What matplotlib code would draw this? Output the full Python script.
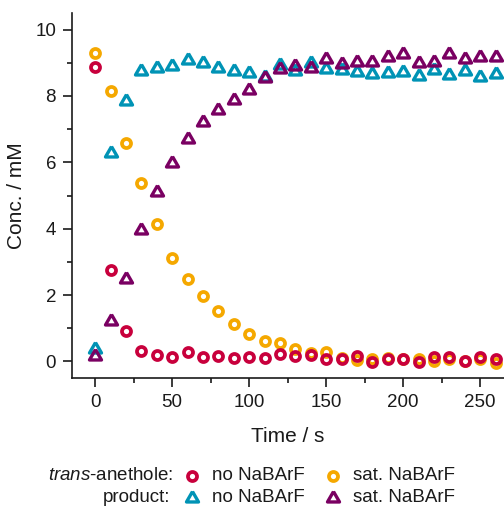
import matplotlib
matplotlib.use("Agg")
import matplotlib.pyplot as plt
from matplotlib.lines import Line2D
from matplotlib.ticker import MultipleLocator

plt.rcParams['font.family'] = ['Liberation Sans', 'DejaVu Sans']
plt.rcParams['mathtext.fontset'] = 'custom'
plt.rcParams['mathtext.rm'] = 'Liberation Sans'
plt.rcParams['mathtext.it'] = 'Liberation Sans:italic'

time_s = [0, 10, 20, 30, 40, 50, 60, 70, 80, 90, 100, 110, 120, 130, 140,
          150, 160, 170, 180, 190, 200, 210, 220, 230, 240, 250, 260]

anethole_no = [8.87, 2.75, 0.93, 0.31, 0.18, 0.14, 0.28, 0.13, 0.16, 0.09, 0.14,
               0.10, 0.21, 0.16, 0.18, 0.08, 0.08, 0.16, -0.02, 0.06, 0.06, -0.02,
               0.12, 0.14, 0.00, 0.14, 0.08]
anethole_sat = [9.28, 8.14, 6.59, 5.38, 4.13, 3.12, 2.47, 1.97, 1.52, 1.14, 0.83,
                0.61, 0.54, 0.38, 0.26, 0.28, 0.09, 0.04, 0.06, 0.09, 0.06, 0.06,
                0.00, 0.08, 0.00, 0.06, -0.04]
product_no = [0.36, 6.27, 7.86, 8.74, 8.83, 8.90, 9.07, 9.00, 8.85, 8.74, 8.69,
              8.56, 8.92, 8.74, 9.00, 8.82, 8.77, 8.71, 8.67, 8.69, 8.71, 8.61,
              8.77, 8.64, 8.74, 8.56, 8.67]
product_sat = [0.16, 1.21, 2.47, 3.95, 5.10, 5.98, 6.69, 7.21, 7.59, 7.89, 8.19,
               8.54, 8.81, 8.90, 8.83, 9.10, 8.95, 9.02, 9.02, 9.18, 9.27, 8.98,
               9.02, 9.27, 9.12, 9.18, 9.18]

c_red = '#C8003C'
c_orange = '#F5A800'
c_cyan = '#0093B5'
c_purple = '#7A0062'
txt = '#1a1a1a'

circ = dict(marker='o', ms=6.5, mew=2.7, mfc='none')
tri_verts = [(0, 0.577), (-0.5, -0.289), (0.5, -0.289), (0, 0.577)]
tri = dict(marker=tri_verts, ms=10, mew=2.4, mfc='none')

fig = plt.figure(figsize=(5.04, 5.07), dpi=100)
ax = fig.add_axes([72/504, 1-378/507, 1-72/504, (378-13)/507])

ax.plot(time_s, product_no, ls='none', mec=c_cyan, **tri)
ax.plot(time_s, product_sat, ls='none', mec=c_purple, **tri)
ax.plot(time_s, anethole_sat, ls='none', mec=c_orange, **circ)
ax.plot(time_s, anethole_no, ls='none', mec=c_red, **circ)

ax.set_xlim(-15, 265.5)
ax.set_ylim(-0.5, 10.5)
ax.xaxis.set_major_locator(MultipleLocator(50))
ax.xaxis.set_minor_locator(MultipleLocator(25))
ax.yaxis.set_major_locator(MultipleLocator(2))
ax.yaxis.set_minor_locator(MultipleLocator(1))
for s in ['top', 'right']:
    ax.spines[s].set_visible(False)
for s in ['left', 'bottom']:
    ax.spines[s].set_linewidth(1.2)
    ax.spines[s].set_color(txt)
ax.tick_params(which='major', direction='out', length=6.5, width=1.2, colors=txt,
               labelsize=13.5, labelcolor=txt, pad=5)
ax.tick_params(which='minor', direction='out', length=3.5, width=1.2, colors=txt)

ax.set_xlabel('Time / s', fontsize=15, color=txt)
ax.set_ylabel('Conc. / mM', fontsize=15, color=txt)
ax.xaxis.set_label_coords(0.5, -0.133)
ax.yaxis.set_label_coords(-0.107, 0.5)

# legend
fs = 13.5
y1 = 1 - 476/507
y2 = 1 - 498/507
fig.text(173/504, y1, r'$\mathit{trans}$-anethole:', ha='right', va='center', fontsize=fs, color=txt)
fig.text(170/504, y2, 'product:', ha='right', va='center', fontsize=fs, color=txt)
for (mx, my, st, col) in [(192, y1, circ, c_red), (333, y1, circ, c_orange),
                          (192, y2, tri, c_cyan), (333, y2, tri, c_purple)]:
    fig.add_artist(Line2D([mx/504], [my], transform=fig.transFigure, ls='none',
                          mec=col, **st))
fig.text(212/504, y1, 'no NaBArF', ha='left', va='center', fontsize=fs, color=txt)
fig.text(353/504, y1, 'sat. NaBArF', ha='left', va='center', fontsize=fs, color=txt)
fig.text(212/504, y2, 'no NaBArF', ha='left', va='center', fontsize=fs, color=txt)
fig.text(353/504, y2, 'sat. NaBArF', ha='left', va='center', fontsize=fs, color=txt)

fig.savefig('out.png', dpi=100)
